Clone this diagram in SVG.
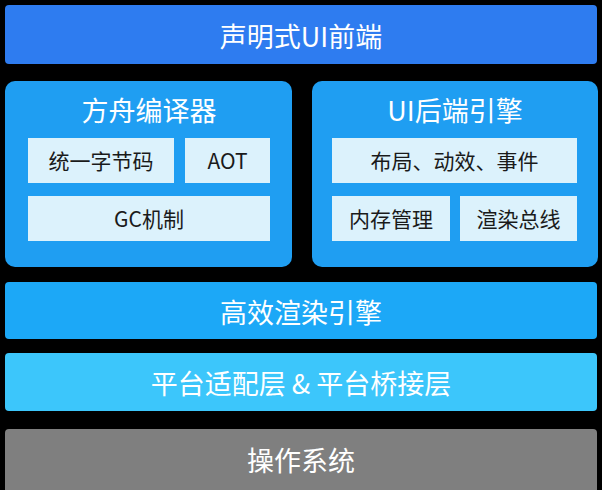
<svg xmlns="http://www.w3.org/2000/svg" width="602" height="490" viewBox="0 0 602 490">
<style>
text{font-family:"Noto Sans CJK SC","Noto Sans",sans-serif;text-anchor:middle;dominant-baseline:central}
.w{fill:#ffffff;font-size:27px}
.d{fill:#1a1a1a;font-size:21px}
.inner{fill:#dcf2fc}
.outer{fill:#1f9ef2}
</style>
<rect x="0" y="0" width="602" height="490" fill="#000000"/>
<g id="frontend">
<rect x="5" y="5" width="592" height="59" rx="4" fill="#2e7cf0"/>
<text class="w" x="301" y="35">声明式UI前端</text>
</g>
<g id="ark-compiler">
<rect class="outer" x="5" y="81" width="287" height="186" rx="10"/>
<text class="w" x="149" y="109">方舟编译器</text>
</g>
<g id="bytecode">
<rect class="inner" x="28" y="138" width="146" height="45"/>
<text class="d" x="101" y="160">统一字节码</text>
</g>
<g id="aot">
<rect class="inner" x="185" y="138" width="85" height="45"/>
<text class="d" x="227.5" y="160">AOT</text>
</g>
<g id="gc">
<rect class="inner" x="28" y="196" width="242" height="45"/>
<text class="d" x="149" y="218">GC机制</text>
</g>
<g id="ui-backend">
<rect class="outer" x="312" y="81" width="286" height="186" rx="10"/>
<text class="w" x="455" y="109">UI后端引擎</text>
</g>
<g id="layout">
<rect class="inner" x="332" y="138" width="245" height="45"/>
<text class="d" x="454.5" y="160">布局、动效、事件</text>
</g>
<g id="memory">
<rect class="inner" x="332" y="196" width="118" height="45"/>
<text class="d" x="391" y="218">内存管理</text>
</g>
<g id="render-bus">
<rect class="inner" x="460" y="196" width="117" height="45"/>
<text class="d" x="518.5" y="218">渲染总线</text>
</g>
<g id="render-engine">
<rect x="5" y="282" width="592" height="57" rx="4" fill="#1ca8f7"/>
<text class="w" x="301" y="311">高效渲染引擎</text>
</g>
<g id="platform">
<rect x="5" y="353" width="592" height="58" rx="4" fill="#3cc6fb"/>
<text class="w" x="301" y="382">平台适配层 &amp; 平台桥接层</text>
</g>
<g id="os">
<rect x="5" y="429" width="592" height="66" rx="4" fill="#7f7f7f"/>
<text class="w" x="301" y="459">操作系统</text>
</g>
<g id="connectors"></g>
</svg>
